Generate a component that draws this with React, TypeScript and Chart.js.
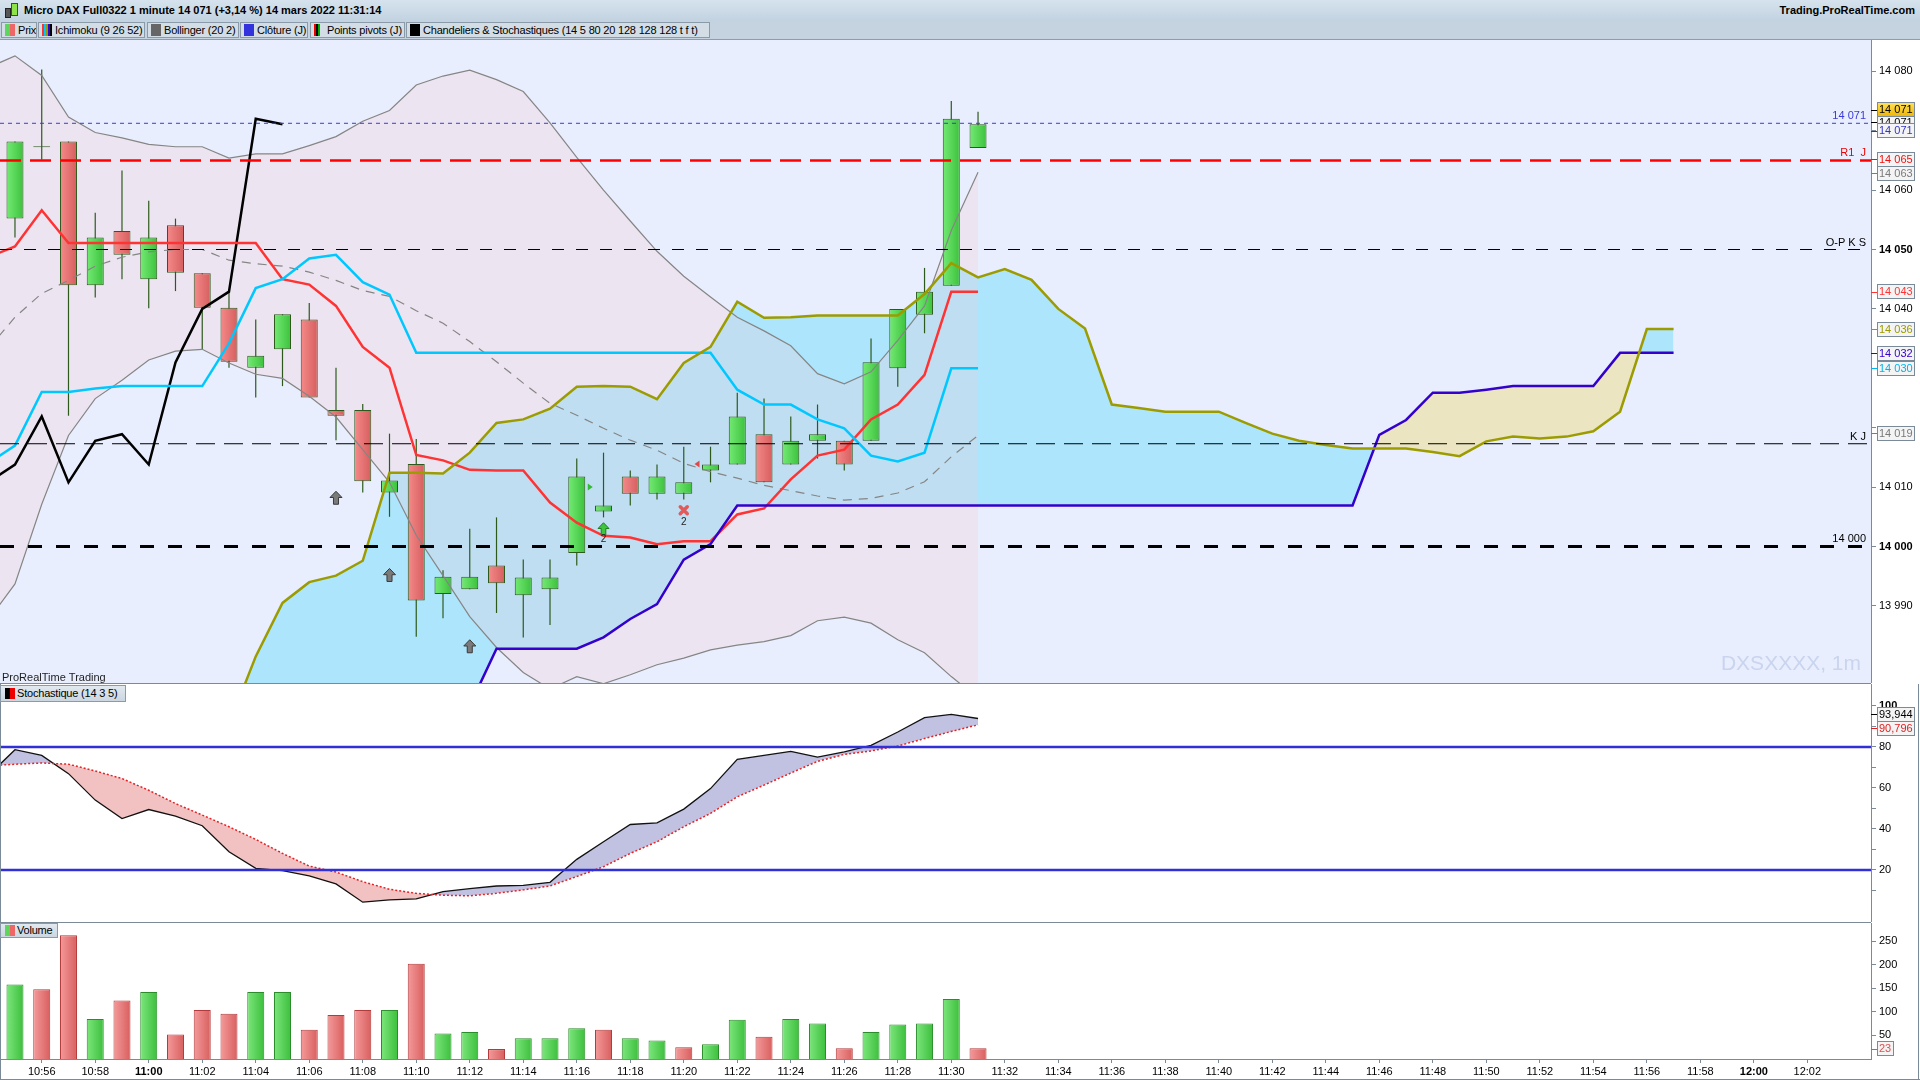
import React, { useEffect, useRef } from "react";
import { Chart, registerables } from "chart.js";

Chart.register(...registerables);

const FONT = '"Liberation Sans", Arial, Helvetica, sans-serif';

// ================= DATA =================
const candleTimes = ["10:55","10:56","10:57","10:58","10:59","11:00","11:01","11:02","11:03","11:04","11:05","11:06","11:07","11:08","11:09","11:10","11:11","11:12","11:13","11:14","11:15","11:16","11:17","11:18","11:19","11:20","11:21","11:22","11:23","11:24","11:25","11:26","11:27","11:28","11:29","11:30","11:31"];
const opens = [14055.2,14067.3,14068.2,14044.0,14053.1,14045.0,14054.1,14046.0,14040.2,14030.1,14033.2,14038.2,14023.0,14023.0,14009.1,14013.9,13992.0,13992.8,13996.8,13991.8,13992.8,13998.9,14005.9,14011.8,14008.9,14008.9,14012.8,14013.8,14018.9,14013.8,14017.8,14017.8,14017.8,14030.0,14039.0,14043.9,14067.1];
const highs = [14068.2,14080.3,14068.2,14056.2,14063.3,14058.2,14055.2,14046.0,14043.1,14038.2,14039.1,14041.0,14030.1,14024.0,14019.0,14018.1,13996.0,14003.0,14004.9,13997.8,13997.8,14014.8,14015.8,14012.8,14013.8,14016.8,14016.8,14025.9,14024.9,14021.9,14023.9,14017.8,14035.0,14040.0,14046.9,14075.0,14073.2];
const lows = [14052.0,14065.1,14022.0,14041.9,14045.0,14040.1,14043.0,14033.2,14030.1,14025.1,14027.0,14025.1,14017.9,14009.1,14005.0,13984.8,13987.9,13992.8,13988.8,13984.7,13986.8,13996.8,14004.9,14006.9,14007.9,14007.9,14010.8,14013.8,14010.8,14013.8,14014.8,14012.8,14017.8,14026.9,14035.9,14043.9,14067.1];
const closes = [14068.2,14067.3,14044.0,14052.0,14049.1,14052.0,14046.1,14040.2,14031.1,14032.1,14039.1,14025.1,14022.0,14011.0,14011.1,13990.9,13994.9,13994.9,13993.8,13994.8,13994.8,14011.8,14006.9,14008.9,14011.8,14010.8,14013.8,14021.9,14010.8,14017.8,14018.9,14013.8,14031.0,14040.0,14042.9,14072.0,14071.1];
const volumes = [158,148,262,85,124,142,52,104,96,142,142,62,93,104,104,202,54,57,21,44,44,65,62,44,39,25,31,83,47,85,75,23,57,73,75,127,23];

const indicatorStart = "10:54";
const tenkan = [14048.7,14050.5,14056.6,14051.1,14051.1,14051.1,14051.1,14051.1,14051.1,14051.1,14051.1,14045.0,14044.1,14040.5,14033.6,14030.1,14015.4,14014.5,14012.9,14012.8,14012.8,14007.4,14004.0,14001.8,14001.5,14000.4,14000.9,14000.9,14005.4,14006.4,14011.3,14015.3,14016.3,14021.4,14023.9,14028.9,14042.9,14042.9];
const kijun = [14014.0,14017.0,14026.0,14026.0,14026.6,14027.0,14027.0,14027.0,14027.0,14034.2,14043.5,14045.0,14048.5,14049.1,14044.5,14042.4,14032.6,14032.6,14032.6,14032.6,14032.6,14032.6,14032.6,14032.6,14032.6,14032.6,14032.6,14032.6,14026.4,14023.9,14023.9,14021.4,14019.9,14015.3,14014.3,14015.8,14030.0,14030.0];
const chikouStart = "10:54";
const chikou = [14010.8,14013.8,14021.9,14010.8,14017.8,14018.9,14013.8,14031.0,14040.0,14042.9,14072.0,14071.1];
const cloudStart = "11:03";
const senkouA = [13970.0,13981.5,13990.5,13994.0,13995.1,13997.6,14012.4,14012.4,14012.3,14015.8,14020.8,14021.4,14023.2,14026.9,14027.0,14026.9,14024.8,14030.9,14033.6,14041.2,14038.5,14038.6,14038.9,14038.9,14038.9,14038.9,14042.5,14047.7,14045.3,14046.7,14044.9,14040.0,14036.7,14023.9,14023.3,14022.7,14022.7,14022.7,14020.8,14019.0,14017.8,14017.1,14016.5,14016.5,14016.5,14015.9,14015.2,14017.7,14018.5,14018.2,14018.5,14019.4,14022.7,14036.6,14036.6];
const senkouB = [13965.0,13967.0,13968.0,13969.0,13970.0,13970.0,13971.0,13972.0,13972.5,13973.2,13982.8,13982.8,13982.8,13982.8,13984.7,13987.8,13990.3,13997.8,14000.4,14006.9,14006.9,14006.9,14006.9,14006.9,14006.9,14006.9,14006.9,14006.9,14006.9,14006.9,14006.9,14006.9,14006.9,14006.9,14006.9,14006.9,14006.9,14006.9,14006.9,14006.9,14006.9,14006.9,14006.9,14018.8,14021.3,14025.9,14025.9,14026.4,14027.0,14027.0,14027.0,14027.0,14032.6,14032.6,14032.6];
const bbUpper = [14080.6,14082.6,14079.3,14072.3,14069.7,14068.8,14067.7,14067.3,14067.3,14065.4,14066.1,14066.1,14067.5,14069.0,14071.6,14073.4,14077.7,14079.2,14080.2,14078.6,14076.6,14071.3,14065.5,14060.0,14054.8,14049.7,14045.5,14042.0,14038.6,14036.3,14033.8,14029.1,14027.4,14029.4,14034.7,14040.5,14053.2,14063.0];
const bbMiddle = [14033.3,14038.6,14042.6,14044.8,14047.2,14048.7,14049.6,14050.0,14050.0,14048.2,14047.6,14047.2,14046.2,14044.8,14043.1,14042.1,14039.7,14037.6,14034.5,14031.1,14027.5,14024.1,14022.1,14019.9,14017.9,14016.2,14014.0,14012.6,14011.5,14010.3,14009.4,14008.5,14007.8,14008.1,14009.0,14010.9,14015.1,14018.7];
const bbLower = [13987.6,13993.7,14007.1,14018.7,14024.9,14028.0,14031.4,14032.9,14033.2,14030.9,14029.0,14028.3,14025.3,14021.8,14016.3,14010.8,14001.9,13995.1,13988.2,13983.0,13978.8,13976.0,13978.1,13976.9,13978.4,13980.1,13981.2,13982.6,13983.4,13984.0,13985.0,13987.5,13988.1,13987.1,13984.3,13982.1,13978.1,13974.5];
const stochK = [66.0,78.7,75.9,67.0,54.1,45.1,49.5,46.3,41.6,28.9,20.8,19.7,17.1,13.2,4.3,5.4,5.9,9.5,10.9,12.2,12.5,14.0,25.2,33.8,42.2,43.0,49.7,59.7,74.0,75.9,77.9,75.1,77.6,80.8,87.3,94.3,95.9,93.9];
const stochD = [70.8,71.6,72.2,71.6,68.3,64.6,58.9,52.4,46.8,41.1,34.9,28.1,21.9,19.0,14.3,10.6,8.6,7.7,7.4,8.6,10.3,12.2,16.8,21.6,28.1,33.8,41.1,47.6,55.7,61.4,67.3,73.0,76.4,78.1,80.5,84.1,87.6,90.8];
const stochLevels = [80, 20];

const pivotValues = [14071.25, 14065, 14050, 14017.3, 14000];
const pivotLabels = ["14 071", "R1  J", "O-P K S", "K J", "14 000"];

const priceTicks = [13990,14000,14010,14020,14030,14040,14050,14060,14070,14080];
const priceHiddenLabels = [13980, 14020];
const stochTicks = [10,20,30,40,50,60,70,80,90,100];
const stochLabeled = [20,40,60,80,100];
const volumeTicks = [50,100,150,200,250];
const timeTickLabels = ["10:56","10:58","11:00","11:02","11:04","11:06","11:08","11:10","11:12","11:14","11:16","11:18","11:20","11:22","11:24","11:26","11:28","11:30","11:32","11:34","11:36","11:38","11:40","11:42","11:44","11:46","11:48","11:50","11:52","11:54","11:56","11:58","12:00","12:02"];

const arrowTimes = ["11:07", "11:09", "11:12"];
const arrowPrices = [14009.3, 13996.3, 13984.3];
const buyTime = "11:17", buyPrice = 14004.0, buyCount = "2";
const sellTime = "11:20", sellPrice = 14006.1, sellCount = "2";
const entryTime = "11:16", entryPrice = 14010.0;
const exitTime = "11:21", exitPrice = 14013.9;

const priceBoxValues = [14071.4, 14073.5, 14070.0, 14065.2, 14062.8, 14042.9, 14036.6, 14032.5, 14030.0, 14019.1];
const priceBoxTexts = ["14 071","14 071","14 071","14 065","14 063","14 043","14 036","14 032","14 030","14 019"];
const stochBoxValues = [95.9, 89.1];
const stochBoxTexts = ["93,944", "90,796"];
const volumeBoxValues = [21.3];
const volumeBoxTexts = ["23"];

const titleText = "Micro DAX Full0322 1 minute 14 071 (+3,14 %) 14 mars 2022 11:31:14";
const siteText = "Trading.ProRealTime.com";
const legendTexts = ["Prix", "Ichimoku (9 26 52)", "Bollinger (20 2)", "Clôture (J)", "Points pivots (J)", "Chandeliers & Stochastiques (14 5 80 20 128 128 128 t f t)"];

// ================= VIEW / STYLE =================
const VIEW_MIN = 54.44, VIEW_MAX = 124.38;
const PRICE_MIN = 13977.02, PRICE_MAX = 14085.27;
const STOCH_MIN = -5.37, STOCH_MAX = 110.73;
const VOL_MIN = 0, VOL_MAX = 288.2;
const AXIS = "#7b8a99";
const PLOT_BG = "#e8eefd";
const pivotColors = ["#3a3ad8", "#ff0000", "#000000", "#000000", "#000000"];
const pivotWidths = [1, 2.5, 1, 1, 3];
const pivotDashes = [[4, 4], [21, 9], [12, 12], [19, 9], [14, 14]];
const pivotTextColors = ["#3a3ad8", "#ee0000", "#000", "#000", "#000"];
const priceBoxColors = ["#000","#000","#3333cc","#ee1111","#7a7a7a","#ff3333","#9a9a00","#3300cc","#00b4ee","#7a7a7a"];
const legendLefts = [1, 38, 147, 240, 310, 406];
const legendWidths = [36, 107, 92, 68, 95, 304];
const legendIcons = [["#5cd65c", "#ee6666"], ["#ff3333", "#00c8ff", "#999900", "#3300cc", "#000"], ["#666"], ["#3333dd"], ["#e00", "#000", "#0a0"], ["#000"]];

// ================= HELPERS =================
const toMin = (t: string) => { const [h, m] = t.split(":").map(Number); return (h - 10) * 60 + m; };
const fromMin = (v: number) => { const r = Math.round(v); const h = 10 + Math.floor(r / 60); const m = r % 60; return `${h}:${String(m).padStart(2, "0")}`; };
const series = (start: string, values: number[]) => values.map((y, i) => ({ x: toMin(start) + i, y }));
const fmtPrice = (v: number) => `${Math.floor(v / 1000)} ${String(Math.round(v % 1000)).padStart(3, "0")}`;
const candleUp = (i: number) => closes[i] >= opens[i];
const volUp = (i: number) => i === 0 || closes[i] >= closes[i - 1];

function barGradient(c: any, up: boolean, upCols: string[], downCols: string[]) {
  const cols = up ? upCols : downCols;
  const chart = c.chart;
  const xs = chart && chart.scales && chart.scales.x;
  if (!c.raw || !xs) return cols[1];
  const px = xs.getPixelForValue(c.raw.x);
  if (!isFinite(px)) return cols[1];
  const g = chart.ctx.createLinearGradient(px - 8.5, 0, px + 8.5, 0);
  g.addColorStop(0, cols[0]);
  g.addColorStop(1, cols[1]);
  return g;
}

const lineDs = (data: any[], color: string, width: number, extra: any = {}) => ({
  type: "line", data, borderColor: color, borderWidth: width, pointRadius: 0, pointHoverRadius: 0,
  tension: 0, fill: false, ...extra,
});

const yAxis = (min: number, max: number, ticks: number[], label: (v: number) => string, bold: (v: number) => boolean) => ({
  type: "linear", position: "right", min, max, bounds: "data", offset: false, beginAtZero: false,
  afterFit: (s: any) => { s.width = 49; s.paddingTop = 0; s.paddingBottom = 0; },
  afterBuildTicks: (s: any) => { s.ticks = ticks.map((v) => ({ value: v })); },
  grid: { display: true, offset: false, drawOnChartArea: false, drawTicks: true, tickLength: 5, tickColor: AXIS, tickWidth: 1 },
  border: { display: true, color: AXIS, width: 1 },
  ticks: {
    autoSkip: false, padding: 3, color: "#000",
    font: (c: any) => ({ family: FONT, size: 11, weight: c.tick && bold(c.tick.value) ? "bold" : "normal" }),
    callback: (v: any) => label(Number(v)),
  },
});

const hiddenX = () => ({
  type: "linear", min: VIEW_MIN, max: VIEW_MAX, display: false, offset: false, bounds: "data",
  grid: { offset: false },
  afterBuildTicks: (s: any) => { s.ticks = timeTickLabels.map((t) => ({ value: toMin(t) })); },
});

const baseOptions = (scales: any) => ({
  animation: false, responsive: false, maintainAspectRatio: false, events: [],
  layout: { padding: 0, autoPadding: false },
  plugins: { legend: { display: false }, tooltip: { enabled: false }, title: { display: false } },
  scales,
});

function drawValueBox(ctx: any, axisX: number, yc: number, w: number, text: string, color: string, gold = false) {
  const left = axisX + 6, h = 15, top = Math.round(yc - h / 2);
  ctx.save();
  if (gold) {
    const g = ctx.createLinearGradient(0, top, 0, top + h);
    g.addColorStop(0, "#ffe45a"); g.addColorStop(1, "#efb300");
    ctx.fillStyle = g;
  } else ctx.fillStyle = "#f4f4f4";
  ctx.fillRect(left, top, w, h);
  ctx.strokeStyle = "#7b8a99"; ctx.lineWidth = 1;
  ctx.strokeRect(left + 0.5, top + 0.5, w - 1, h - 1);
  ctx.strokeStyle = color;
  ctx.beginPath(); ctx.moveTo(axisX, Math.round(yc) + 0.5); ctx.lineTo(left, Math.round(yc) + 0.5); ctx.stroke();
  ctx.fillStyle = color; ctx.font = `11px ${FONT}`; ctx.textAlign = "left"; ctx.textBaseline = "middle";
  ctx.fillText(text, left + 2, top + h / 2 + 0.5);
  ctx.restore();
}

function blockArrowUp(ctx: any, cx: number, top: number, w: number, h: number, fill: string, stroke: string) {
  const headH = h * 0.48, sw = w * 0.42;
  ctx.beginPath();
  ctx.moveTo(cx, top);
  ctx.lineTo(cx + w / 2, top + headH);
  ctx.lineTo(cx + sw / 2, top + headH);
  ctx.lineTo(cx + sw / 2, top + h);
  ctx.lineTo(cx - sw / 2, top + h);
  ctx.lineTo(cx - sw / 2, top + headH);
  ctx.lineTo(cx - w / 2, top + headH);
  ctx.closePath();
  ctx.fillStyle = fill; ctx.fill();
  ctx.strokeStyle = stroke; ctx.lineWidth = 1; ctx.stroke();
}

const bgPlugin = (plotColor: string) => ({
  id: "bgFill",
  beforeDraw(chart: any) {
    const { ctx, chartArea: a, width, height } = chart;
    ctx.save();
    ctx.fillStyle = "#ffffff"; ctx.fillRect(0, 0, width, height);
    ctx.fillStyle = plotColor; ctx.fillRect(a.left, a.top, a.right - a.left, a.bottom - a.top);
    ctx.restore();
  },
});

// ================= COMPONENT =================
export default function App() {
  const priceRef = useRef<HTMLCanvasElement>(null);
  const stochRef = useRef<HTMLCanvasElement>(null);
  const volRef = useRef<HTMLCanvasElement>(null);

  useEffect(() => {
    Chart.defaults.font.family = FONT;
    const charts: any[] = [];
    const full = (v: number) => [{ x: VIEW_MIN, y: v }, { x: VIEW_MAX, y: v }];

    // ---------- PRICE ----------
    const priceDecor = {
      id: "priceDecor",
      afterDatasetsDraw(chart: any) {
        const { ctx, chartArea: a } = chart;
        const xs = chart.scales.x, ys = chart.scales.y;
        ctx.save();
        ctx.beginPath(); ctx.rect(a.left, a.top, a.right - a.left, a.bottom - a.top); ctx.clip();
        ctx.font = `11px ${FONT}`; ctx.textAlign = "right"; ctx.textBaseline = "alphabetic";
        pivotValues.forEach((v, i) => {
          ctx.fillStyle = pivotTextColors[i];
          ctx.fillText(pivotLabels[i], a.right - 5, ys.getPixelForValue(v) - 4);
        });
        arrowTimes.forEach((t, i) => blockArrowUp(ctx, xs.getPixelForValue(toMin(t)), ys.getPixelForValue(arrowPrices[i]), 12, 13, "#7a7a7a", "#3a3a3a"));
        const bx = xs.getPixelForValue(toMin(buyTime)), by = ys.getPixelForValue(buyPrice);
        blockArrowUp(ctx, bx, by, 11, 12, "#3ec43e", "#1d7f1d");
        ctx.font = `10px ${FONT}`; ctx.textAlign = "center"; ctx.textBaseline = "top"; ctx.fillStyle = "#222";
        ctx.fillText(buyCount, bx, by + 12);
        const sx = xs.getPixelForValue(toMin(sellTime)), sy = ys.getPixelForValue(sellPrice);
        ctx.strokeStyle = "#e25a5a"; ctx.lineWidth = 3.5; ctx.lineCap = "round";
        ctx.beginPath();
        ctx.moveTo(sx - 3.5, sy - 3.5); ctx.lineTo(sx + 3.5, sy + 3.5);
        ctx.moveTo(sx + 3.5, sy - 3.5); ctx.lineTo(sx - 3.5, sy + 3.5);
        ctx.stroke();
        ctx.fillText(sellCount, sx, sy + 7);
        const ex = xs.getPixelForValue(toMin(entryTime)) + 11, ey = ys.getPixelForValue(entryPrice);
        ctx.fillStyle = "#33bb33"; ctx.beginPath(); ctx.moveTo(ex, ey - 3.5); ctx.lineTo(ex + 5, ey); ctx.lineTo(ex, ey + 3.5); ctx.closePath(); ctx.fill();
        const qx = xs.getPixelForValue(toMin(exitTime)) - 11, qy = ys.getPixelForValue(exitPrice);
        ctx.fillStyle = "#e04848"; ctx.beginPath(); ctx.moveTo(qx, qy - 3.5); ctx.lineTo(qx - 5, qy); ctx.lineTo(qx, qy + 3.5); ctx.closePath(); ctx.fill();
        ctx.font = `21px ${FONT}`; ctx.textAlign = "right"; ctx.textBaseline = "alphabetic"; ctx.fillStyle = "#c9d4ee";
        ctx.fillText("DXSXXXX, 1m", a.right - 10, a.bottom - 13);
        ctx.font = `11px ${FONT}`; ctx.textAlign = "left"; ctx.fillStyle = "#1e1e1e";
        ctx.fillText("ProRealTime Trading", 2, a.bottom - 2);
        ctx.restore();
      },
      afterDraw(chart: any) {
        const { ctx, chartArea: a } = chart;
        const ys = chart.scales.y;
        priceBoxValues.forEach((v, i) => drawValueBox(ctx, a.right, ys.getPixelForValue(v), 38, priceBoxTexts[i], priceBoxColors[i], i === 1));
      },
    };

    const priceDatasets: any[] = [
      { ...lineDs(series(indicatorStart, bbUpper), "transparent", 0), fill: { target: 1, above: "rgba(248,205,210,0.26)", below: "rgba(248,205,210,0.26)" }, order: 90 },
      { ...lineDs(series(indicatorStart, bbLower), "transparent", 0), order: 89 },
      { ...lineDs(series(cloudStart, senkouA), "transparent", 0), fill: { target: 3, above: "#ade5fc", below: "#ebe5c2" }, order: 100 },
      { ...lineDs(series(cloudStart, senkouB), "transparent", 0), order: 99 },
      {
        type: "bar", order: 50, grouped: false, barThickness: 1.2, inflateAmount: 0, borderWidth: 0,
        backgroundColor: "#2d5a1c",
        data: candleTimes.map((t, i) => ({ x: toMin(t), y: [lows[i], highs[i]] })),
      },
      {
        type: "bar", order: 49, grouped: false, barThickness: 17, inflateAmount: 0, borderWidth: 1, borderSkipped: false,
        borderColor: "#2d5a1c",
        backgroundColor: (c: any) => barGradient(c, candleUp(c.dataIndex ?? 0), ["#74ea74", "#3cc23c"], ["#f58a8a", "#d65e5e"]),
        data: candleTimes.map((t, i) => {
          const lo = Math.min(opens[i], closes[i]), hi = Math.max(opens[i], closes[i]);
          const pad = hi - lo < 0.2 ? 0.08 : 0;
          return { x: toMin(t), y: [lo - pad, hi + pad] };
        }),
      },
      { ...lineDs(series(indicatorStart, bbUpper), "#858585", 1.2), order: 30 },
      { ...lineDs(series(indicatorStart, bbLower), "#858585", 1.2), order: 30 },
      { ...lineDs(series(indicatorStart, bbMiddle), "#858585", 1.2, { borderDash: [9, 7] }), order: 30 },
      { ...lineDs(series(cloudStart, senkouA), "#9c9c00", 2.5), order: 20 },
      { ...lineDs(series(cloudStart, senkouB), "#3300cc", 2.5), order: 20 },
      { ...lineDs(series(indicatorStart, kijun), "#00c8ff", 2.5), order: 20 },
      { ...lineDs(series(indicatorStart, tenkan), "#ff3333", 2.5), order: 20 },
      { ...lineDs(series(chikouStart, chikou), "#000000", 2.5), order: 20 },
      ...pivotValues.map((v, i) => ({ ...lineDs(full(v), pivotColors[i], pivotWidths[i], { borderDash: pivotDashes[i] }), order: 10 })),
    ];

    charts.push(new Chart(priceRef.current as any, {
      type: "line",
      data: { datasets: priceDatasets },
      options: baseOptions({
        x: hiddenX(),
        y: yAxis(PRICE_MIN, PRICE_MAX, priceTicks, (v) => (priceHiddenLabels.includes(v) ? "" : fmtPrice(v)), (v) => v % 50 === 0),
      }) as any,
      plugins: [bgPlugin(PLOT_BG), priceDecor],
    } as any));

    // ---------- STOCHASTIC ----------
    const stochDecor = {
      id: "stochDecor",
      afterDraw(chart: any) {
        const { ctx, chartArea: a } = chart;
        const ys = chart.scales.y;
        const cols = ["#000", "#e02020"];
        stochBoxValues.forEach((v, i) => drawValueBox(ctx, a.right, ys.getPixelForValue(v), 38, stochBoxTexts[i], cols[i]));
      },
    };
    charts.push(new Chart(stochRef.current as any, {
      type: "line",
      data: {
        datasets: [
          { ...lineDs(series(indicatorStart, stochK), "#111111", 1.3), fill: { target: 1, above: "#c1c1e2", below: "#f2c2c2" }, order: 10 },
          { ...lineDs(series(indicatorStart, stochD), "#e42222", 1.5, { borderDash: [2, 2] }), order: 5 },
          ...stochLevels.map((v) => ({ ...lineDs(full(v), "#3030d8", 2.5), order: 1 })),
        ],
      },
      options: baseOptions({
        x: hiddenX(),
        y: yAxis(STOCH_MIN, STOCH_MAX, stochTicks, (v) => (stochLabeled.includes(v) ? String(v) : ""), (v) => v === 100),
      }) as any,
      plugins: [bgPlugin("#ffffff"), stochDecor],
    } as any));

    // ---------- VOLUME ----------
    const volDecor = {
      id: "volDecor",
      afterDraw(chart: any) {
        const { ctx, chartArea: a } = chart;
        const ys = chart.scales.y;
        volumeBoxValues.forEach((v, i) => drawValueBox(ctx, a.right, ys.getPixelForValue(v), 17, volumeBoxTexts[i], "#e05050"));
      },
    };
    charts.push(new Chart(volRef.current as any, {
      type: "bar",
      data: {
        datasets: [{
          type: "bar", grouped: false, barThickness: 17, inflateAmount: 0, borderWidth: 1, borderSkipped: "start",
          borderColor: (c: any) => (volUp(c.dataIndex ?? 0) ? "#2a8c2a" : "#b33b3b"),
          backgroundColor: (c: any) => barGradient(c, volUp(c.dataIndex ?? 0), ["#7ce67c", "#3cbf3c"], ["#f59a9a", "#d85f5f"]),
          data: candleTimes.map((t, i) => ({ x: toMin(t), y: volumes[i] })),
        }],
      },
      options: baseOptions({
        x: {
          type: "linear", position: "bottom", min: VIEW_MIN, max: VIEW_MAX, bounds: "data", offset: false,
          afterFit: (s: any) => { s.height = 21; s.paddingLeft = 0; s.paddingRight = 0; },
          afterBuildTicks: (s: any) => { s.ticks = timeTickLabels.map((t) => ({ value: toMin(t) })); },
          grid: { display: true, offset: false, drawOnChartArea: false, drawTicks: true, tickLength: 4, tickColor: AXIS, tickWidth: 1 },
          border: { display: true, color: AXIS, width: 1 },
          ticks: {
            autoSkip: false, maxRotation: 0, minRotation: 0, padding: 2, color: "#000",
            font: (c: any) => ({ family: FONT, size: 11, weight: c.tick && c.tick.value % 60 === 0 ? "bold" : "normal" }),
            callback: (v: any) => fromMin(Number(v)),
          },
        },
        y: yAxis(VOL_MIN, VOL_MAX, volumeTicks, (v) => String(v), () => false),
      }) as any,
      plugins: [bgPlugin("#ffffff"), volDecor],
    } as any));

    return () => charts.forEach((c) => c.destroy());
  }, []);

  const tag: any = {
    position: "absolute", left: 0, boxSizing: "border-box", border: "1px solid #8a9aa9",
    background: "linear-gradient(#e2e9ef,#cbd6e0)", fontSize: 11, color: "#000", whiteSpace: "nowrap",
    letterSpacing: "-0.2px", paddingLeft: 16,
  };

  return (
    <div style={{ position: "fixed", left: 0, top: 0, width: 1920, height: 1080, background: "#fff", overflow: "hidden", fontFamily: FONT }}>
      {/* title bar */}
      <div style={{ position: "absolute", left: 0, top: 0, width: 1920, height: 21, background: "linear-gradient(#d6e3ee,#c2d2e0)" }}>
        <div style={{ position: "absolute", left: 5, top: 8, width: 4, height: 8, background: "#555", border: "1px solid #222" }} />
        <div style={{ position: "absolute", left: 11, top: 3, width: 5, height: 11, background: "#8fe34a", border: "1px solid #2d5a1c" }} />
        <div style={{ position: "absolute", left: 24, top: 3, fontSize: 11, fontWeight: "bold", letterSpacing: "0px", color: "#000", whiteSpace: "nowrap", lineHeight: "15px" }}>{titleText}</div>
        <div style={{ position: "absolute", right: 5, top: 3, fontSize: 11, fontWeight: "bold", letterSpacing: "0px", color: "#000", lineHeight: "15px" }}>{siteText}</div>
      </div>
      {/* legend row */}
      <div style={{ position: "absolute", left: 0, top: 21, width: 1920, height: 19, background: "#c4d3df", borderBottom: "1px solid #8d9dac", boxSizing: "border-box" }}>
        {legendTexts.map((t, i) => (
          <div key={i} style={{ position: "absolute", left: legendLefts[i], top: 1, width: legendWidths[i], height: 16, boxSizing: "border-box", border: "1px solid #8a9aa9", background: "#d3dde6", fontSize: 11, lineHeight: "14px", letterSpacing: "-0.2px", whiteSpace: "nowrap", overflow: "hidden" }}>
            <div style={{ position: "absolute", left: 3, top: 1, height: 12, display: "flex" }}>
              {legendIcons[i].map((c, j) => (
                <div key={j} style={{ width: legendIcons[i].length > 2 ? 2 : legendIcons[i].length === 2 ? 5 : 10, height: 12, background: c }} />
              ))}
            </div>
            <span style={{ position: "absolute", left: 16, top: 0 }}>{t}</span>
          </div>
        ))}
      </div>

      <canvas ref={priceRef} width={1920} height={643} style={{ position: "absolute", left: 0, top: 40, width: 1920, height: 643 }} />
      <canvas ref={stochRef} width={1920} height={238} style={{ position: "absolute", left: 0, top: 684, width: 1920, height: 238 }} />
      <canvas ref={volRef} width={1920} height={157} style={{ position: "absolute", left: 0, top: 923, width: 1920, height: 157 }} />

      {/* panel separators & frame */}
      <div style={{ position: "absolute", left: 0, top: 683, width: 1871, height: 1, background: "#7b8a99" }} />
      <div style={{ position: "absolute", left: 0, top: 922, width: 1871, height: 1, background: "#7b8a99" }} />
      <div style={{ position: "absolute", left: 0, top: 1079, width: 1920, height: 1, background: "#7b8a99" }} />
      <div style={{ position: "absolute", left: 0, top: 684, width: 1, height: 396, background: "#7b8a99" }} />
      <div style={{ position: "absolute", left: 1918, top: 684, width: 1, height: 396, background: "#7b8a99" }} />

      {/* panel tags */}
      <div style={{ ...tag, top: 685, width: 126, height: 17, lineHeight: "15px" }}>
        <div style={{ position: "absolute", left: 4, top: 2, width: 5, height: 11, background: "#000" }} />
        <div style={{ position: "absolute", left: 9, top: 2, width: 5, height: 11, background: "#e00" }} />
        Stochastique (14 3 5)
      </div>
      <div style={{ ...tag, top: 923, width: 58, height: 15, lineHeight: "13px" }}>
        <div style={{ position: "absolute", left: 4, top: 1, width: 5, height: 11, background: "#5cd65c" }} />
        <div style={{ position: "absolute", left: 9, top: 1, width: 5, height: 11, background: "#ee6666" }} />
        Volume
      </div>
    </div>
  );
}
